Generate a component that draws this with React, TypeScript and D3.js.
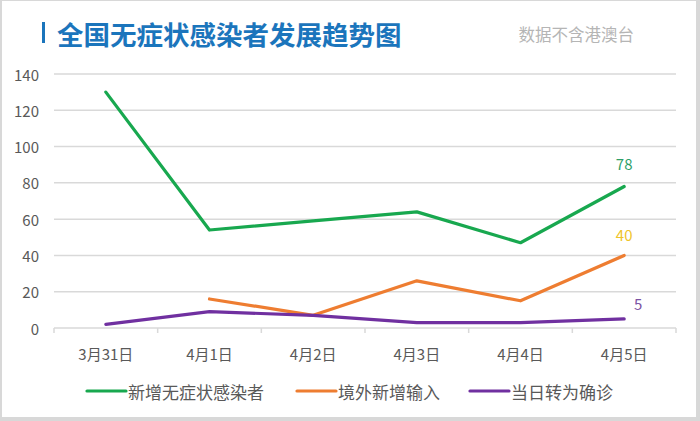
import React from "react";
import * as d3 from "d3";

const categories = ["3月31日", "4月1日", "4月2日", "4月3日", "4月4日", "4月5日"];
const asymptomatic: (number | null)[] = [130, 54, 59, 64, 47, 78];
const imported: (number | null)[] = [null, 16, 7, 26, 15, 40];
const confirmed: (number | null)[] = [2, 9, 7, 3, 3, 5];
const yTicks = [0, 20, 40, 60, 80, 100, 120, 140];
const seriesNames = ["新增无症状感染者", "境外新增输入", "当日转为确诊"];

const W = 700;
const H = 421;
const FONT = "'Noto Sans CJK SC', 'Noto Sans', sans-serif";

export default function App() {
  const x = d3.scaleBand<string>().domain(categories).range([54, 676]).padding(0);
  const y = d3.scaleLinear().domain([0, 140]).range([328, 74]);
  const cx = (c: string) => (x(c) ?? 0) + x.bandwidth() / 2;

  const series = [
    { name: seriesNames[0], data: asymptomatic, color: "#18a84f", labelColor: "#2e9f68", dx: 0, dy: -23 },
    { name: seriesNames[1], data: imported, color: "#ee7d31", labelColor: "#efc42a", dx: 0, dy: -21 },
    { name: seriesNames[2], data: confirmed, color: "#7030a0", labelColor: "#7b52a3", dx: 14, dy: -15 },
  ];

  const line = d3
    .line<[string, number | null]>()
    .defined((d) => d[1] !== null)
    .x((d) => cx(d[0]))
    .y((d) => y(d[1] as number));

  const legendX = [87, 297, 470];

  return (
    <svg width={W} height={H} style={{ position: "absolute", left: 0, top: 0 }} fontFamily={FONT}>
      <rect x={0} y={0} width={W} height={H} fill="#d8d8d8" />
      <rect x={2} y={1} width={W - 6} height={H - 5} fill="#ffffff" />

      {/* title */}
      <rect x={42} y={22} width={3} height={21} fill="#1b75bc" />
      <text x={57} y={33} dominantBaseline="central" fontSize={26.5} fontWeight="bold" fill="#1b75bc">
        全国无症状感染者发展趋势图
      </text>
      <text x={634} y={34} dominantBaseline="central" textAnchor="end" fontSize={16.5} fill="#b5b5b5">
        数据不含港澳台
      </text>

      {/* grid */}
      {yTicks.map((t) => (
        <g key={t}>
          <line x1={54} x2={676} y1={y(t)} y2={y(t)} stroke="#d9d9d9" strokeWidth={1.5} />
          <text x={39} y={y(t)} textAnchor="end" dominantBaseline="central" fontSize={15} fill="#595959">
            {t}
          </text>
        </g>
      ))}
      {/* category ticks */}
      {d3.range(categories.length + 1).map((i) => {
        const xx = 54 + i * x.bandwidth();
        return <line key={i} x1={xx} x2={xx} y1={y(0)} y2={y(0) + 5} stroke="#d9d9d9" strokeWidth={1.5} />;
      })}
      {categories.map((c) => (
        <text key={c} x={cx(c)} y={353} textAnchor="middle" dominantBaseline="central" fontSize={15} fill="#595959">
          {c}
        </text>
      ))}

      {/* lines */}
      {series.map((s) => (
        <path
          key={s.name}
          d={line(categories.map((c, i) => [c, s.data[i]] as [string, number | null])) ?? ""}
          fill="none"
          stroke={s.color}
          strokeWidth={3.2}
          strokeLinejoin="round"
          strokeLinecap="round"
        />
      ))}

      {/* last-value labels */}
      {series.map((s) => {
        const i = categories.length - 1;
        const v = s.data[i] as number;
        return (
          <text
            key={s.name + "l"}
            x={cx(categories[i]) + s.dx}
            y={y(v) + s.dy}
            textAnchor="middle"
            dominantBaseline="central"
            fontSize={15}
            fill={s.labelColor}
          >
            {v}
          </text>
        );
      })}

      {/* legend */}
      {series.map((s, i) => (
        <g key={s.name + "g"}>
          <line x1={legendX[i]} x2={legendX[i] + 39} y1={391} y2={391} stroke={s.color} strokeWidth={3.2} strokeLinecap="round" />
          <text x={legendX[i] + 41} y={391} dominantBaseline="central" fontSize={17} fill="#595959">
            {s.name}
          </text>
        </g>
      ))}
    </svg>
  );
}
